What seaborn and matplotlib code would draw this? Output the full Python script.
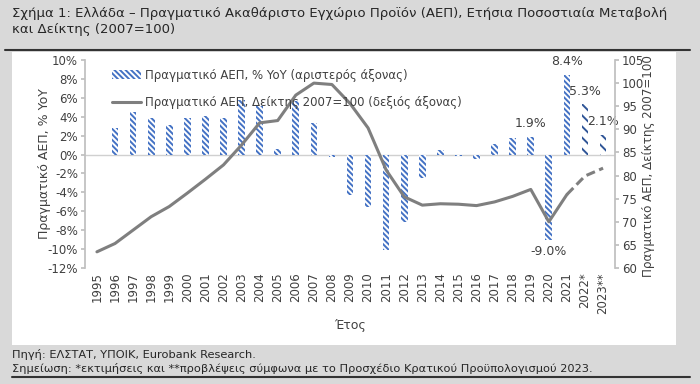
import numpy as np
import pandas as pd
import matplotlib.pyplot as plt
import seaborn as sns
from matplotlib.patches import Rectangle, Patch
from matplotlib.lines import Line2D


# Data

years = ['1995', '1996', '1997', '1998', '1999', '2000', '2001', '2002', '2003', '2004',
         '2005', '2006', '2007', '2008', '2009', '2010', '2011', '2012', '2013', '2014',
         '2015', '2016', '2017', '2018', '2019', '2020', '2021', '2022*', '2023**']

gdp_yoy = [np.nan, 2.8, 4.5, 3.9, 3.1, 3.9, 4.1, 3.9, 5.8, 5.1,
           0.6, 5.7, 3.3, -0.3, -4.3, -5.5, -10.1, -7.1, -2.5, 0.5,
           -0.2, -0.5, 1.1, 1.7, 1.9, -9.0, 8.4, 5.3, 2.1]

gdp_index = [63.5, 65.3, 68.2, 71.1, 73.3, 76.2, 79.2, 82.3, 86.6, 91.4,
             91.9, 97.4, 100.0, 99.7, 95.6, 90.3, 81.2, 75.4, 73.6, 73.9,
             73.8, 73.5, 74.3, 75.5, 77.0, 70.0, 75.9, 79.9, 81.6]

bar_labels = {'2019': '1.9%', '2020': '-9.0%', '2021': '8.4%', '2022*': '5.3%', '2023**': '2.1%'}

title = ('Σχήμα 1: Ελλάδα – Πραγματικό Ακαθάριστο Εγχώριο Προϊόν (ΑΕΠ), Ετήσια Ποσοστιαία Μεταβολή\n'
         'και Δείκτης (2007=100)')
source = 'Πηγή: ΕΛΣΤΑΤ, ΥΠΟΙΚ, Eurobank Research.'
note = 'Σημείωση: *εκτιμήσεις και **προβλέψεις σύμφωνα με το Προσχέδιο Κρατικού Προϋπολογισμού 2023.'

df = pd.DataFrame({'Year': years, 'YoY': gdp_yoy, 'Index': gdp_index})
df['pos'] = np.arange(len(df))


# Style

sns.set_theme(style='white')
plt.rcParams['font.family'] = ['DejaVu Sans']
plt.rcParams['hatch.linewidth'] = 1.4

blue = '#4472C4'
dark_blue = '#2F5597'
grey_line = '#7F7F7F'
text_col = '#404040'
bg = '#D9D9D9'

fig = plt.figure(figsize=(7, 3.84), dpi=100, facecolor=bg)

# white panel + dark rules
fig.patches.append(Rectangle((12/700, 1-345/384), (676-12)/700, (345-52)/384,
                             transform=fig.transFigure, facecolor='white', edgecolor='none', zorder=-10))
fig.lines.append(Line2D([5/700, 690/700], [1-50/384, 1-50/384], transform=fig.transFigure,
                        color='#333333', lw=1.5))
fig.lines.append(Line2D([12/700, 690/700], [1-377/384, 1-377/384], transform=fig.transFigure,
                        color='#333333', lw=1.5))

fig.text(12/700, 1-7/384, title, ha='left', va='top', fontsize=9.5, color='#262626', linespacing=1.3)
fig.text(12/700, 1-355/384, source, ha='left', va='center', fontsize=8.2, color='#262626')
fig.text(12/700, 1-368/384, note, ha='left', va='center', fontsize=8.2, color='#262626')

ax = fig.add_axes([85/700, 1-268/384, (615-85)/700, (268-60)/384])
ax.set_facecolor('none')


# Bars (YoY %)

sns.barplot(data=df, x='Year', y='YoY', order=years, ax=ax, color='white',
            width=0.37, saturation=1, edgecolor=blue, linewidth=0)

for p in ax.patches:
    i = int(round(p.get_x() + p.get_width() / 2))
    if i >= 27:
        p.set_hatch('\\\\\\')
        p.set_edgecolor(dark_blue)
    else:
        p.set_hatch('\\\\\\\\\\\\')
        p.set_edgecolor(blue)
    p.set_facecolor('white')
    p.set_linewidth(0)

ax.axhline(0, color='#D0D0D0', lw=1, zorder=0)

for i, y in enumerate(years):
    if y in bar_labels:
        v = gdp_yoy[i]
        ty = v + 1.4 if v > 0 else v - 1.3
        ax.text(i, ty, bar_labels[y], ha='center', va='center', fontsize=9, color=text_col)

ax.set_ylim(-12, 10)
ax.set_yticks(np.arange(-12, 11, 2))
ax.set_yticklabels([f'{t}%' for t in range(-12, 11, 2)])
ax.set_xlim(-0.66, 28.66)
ax.set_xlabel('Έτος', fontsize=9, color=text_col, labelpad=4)
ax.set_ylabel('Πραγματικό ΑΕΠ, % YoY', fontsize=9, color=text_col)
ax.yaxis.set_label_coords(-0.064, 0.5)
ax.tick_params(axis='x', rotation=90, length=0, labelsize=8.5, labelcolor=text_col, pad=3)
ax.tick_params(axis='y', length=3, color='#BFBFBF', labelsize=8.5, labelcolor=text_col, left=True, pad=2)
for s in ['top', 'bottom', 'right']:
    ax.spines[s].set_visible(False)
ax.spines['left'].set_color('#BFBFBF')


# Line (index 2007=100)

ax2 = ax.twinx()
sns.lineplot(x=df['pos'][:27], y=df['Index'][:27], ax=ax2, color=grey_line, lw=2.2)
sns.lineplot(x=df['pos'][26:], y=df['Index'][26:], ax=ax2, color=grey_line, lw=2.2,
             linestyle=(0, (3, 1.5)))
ax2.set_ylim(60, 105)
ax2.set_yticks(np.arange(60, 106, 5))
ax2.set_ylabel('Πραγματικό ΑΕΠ, Δείκτης 2007=100', fontsize=8.6, color=text_col, rotation=90)
ax2.yaxis.set_label_coords(1.051, 0.49)
ax2.tick_params(axis='y', length=3, color='#BFBFBF', labelsize=8.5, labelcolor=text_col, right=True, pad=2)
for s in ['top', 'bottom', 'left']:
    ax2.spines[s].set_visible(False)
ax2.spines['right'].set_color('#BFBFBF')
ax2.set_xlim(-0.66, 28.66)


# Legend

handles = [Patch(facecolor='white', edgecolor=blue, hatch='\\\\\\\\\\\\', linewidth=0),
           Line2D([0], [0], color=grey_line, lw=2.2)]
labels = ['Πραγματικό ΑΕΠ, % YoY (αριστερός άξονας)',
          'Πραγματικό ΑΕΠ, Δείκτης 2007=100 (δεξιός άξονας)']
ax2.legend(handles, labels, loc='upper left', bbox_to_anchor=(0.03, 1.01), frameon=False,
           fontsize=8.5, labelspacing=1.2, handlelength=2.5, handletextpad=0.3,
           labelcolor=text_col)

plt.savefig('out.png', dpi=100, facecolor=bg)
